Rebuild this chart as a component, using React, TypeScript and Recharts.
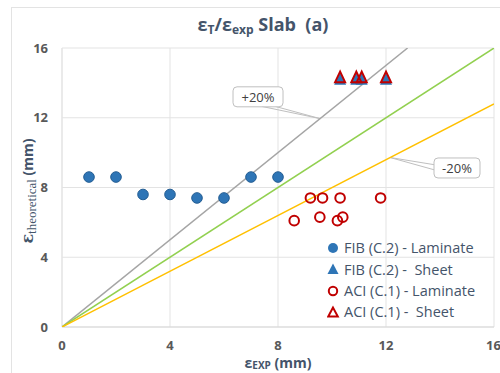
import React from 'react';
import { ScatterChart, Scatter, XAxis, YAxis, CartesianGrid, ReferenceLine, ReferenceDot } from 'recharts';

const axisTicks = [0, 4, 8, 12, 16];

const fibLaminate = [
  { x: 1, y: 8.6 }, { x: 2, y: 8.6 }, { x: 3, y: 7.6 }, { x: 4, y: 7.6 },
  { x: 5, y: 7.4 }, { x: 6, y: 7.4 }, { x: 7, y: 8.6 }, { x: 8, y: 8.6 },
];
const fibSheet = [
  { x: 10.3, y: 14.3 }, { x: 10.9, y: 14.3 }, { x: 11.1, y: 14.3 }, { x: 12.0, y: 14.3 },
];
const aciLaminate = [
  { x: 9.2, y: 7.4 }, { x: 9.65, y: 7.4 }, { x: 10.3, y: 7.4 }, { x: 11.8, y: 7.4 },
  { x: 8.6, y: 6.1 }, { x: 9.55, y: 6.3 }, { x: 10.2, y: 6.1 }, { x: 10.4, y: 6.3 },
];
const aciSheet = [
  { x: 10.3, y: 14.3 }, { x: 10.9, y: 14.3 }, { x: 11.1, y: 14.3 }, { x: 12.0, y: 14.3 },
];

const plus20Line = [{ x: 0, y: 0 }, { x: 12.8, y: 16 }];
const equalLine = [{ x: 0, y: 0 }, { x: 16, y: 16 }];
const minus20Line = [{ x: 0, y: 0 }, { x: 16, y: 12.8 }];

const legendNames = ['FIB (C.2) - Laminate', 'FIB (C.2) -  Sheet', 'ACI (C.1) - Laminate', 'ACI (C.1) -  Sheet'];

const BLUE = '#2e75b6';
const RED = '#c00000';
const TEXT = '#44546a';
const TICK = '#595959';
const FONT = '"Open Sans", "Noto Sans", sans-serif';

const BlueCircle = (p: any) => (
  <circle cx={p.cx} cy={p.cy} r={5.3} fill={BLUE} stroke="#235d93" strokeWidth={1} />
);
const RedCircle = (p: any) => (
  <circle cx={p.cx} cy={p.cy} r={4.8} fill="none" stroke={RED} strokeWidth={2} />
);
const BlueTri = (p: any) => (
  <polygon
    points={`${p.cx},${p.cy - 5} ${p.cx - 6},${p.cy + 7} ${p.cx + 6},${p.cy + 7}`}
    fill={BLUE}
  />
);
const RedTri = (p: any) => (
  <polygon
    points={`${p.cx},${p.cy - 6} ${p.cx - 5},${p.cy + 4.5} ${p.cx + 5},${p.cy + 4.5}`}
    fill="none"
    stroke={RED}
    strokeWidth={2}
    strokeLinejoin="miter"
  />
);
const NoShape = () => <g />;

const makeBox = (label: string, w: number) => (p: any) => (
  <g>
    <rect x={p.cx - w / 2} y={p.cy - 10} width={w} height={20} rx={4} ry={4} fill="#ffffff" stroke="#bfbfbf" strokeWidth={1} />
    <text x={p.cx} y={p.cy} textAnchor="middle" dominantBaseline="central" fontSize={13} fill="#404040" fontFamily={FONT}>
      {label}
    </text>
  </g>
);

const legendIcon = (i: number) => {
  if (i === 0) return <circle cx={6} cy={7} r={5} fill={BLUE} />;
  if (i === 1) return <polygon points="6,1.5 0.5,12 11.5,12" fill={BLUE} />;
  if (i === 2) return <circle cx={6} cy={7} r={4.2} fill="none" stroke={RED} strokeWidth={2} />;
  return <polygon points="6,2.5 1.2,11.5 10.8,11.5" fill="none" stroke={RED} strokeWidth={2} />;
};

export default function App() {
  return (
    <div style={{ position: 'absolute', left: 0, top: 0, width: 500, height: 373, background: '#fff', overflow: 'hidden', fontFamily: FONT }}>
      <div style={{ position: 'absolute', left: 11, top: 7, width: 600, height: 600, borderLeft: '1px solid #e3e3e3', borderTop: '1px solid #e3e3e3' }} />
      <ScatterChart width={500} height={373} margin={{ top: 48, right: 6, bottom: 16, left: 0 }} style={{ position: 'absolute', left: 0, top: 0 }}>
        <CartesianGrid stroke="#e3e3e3" strokeWidth={1} />
        <XAxis
          type="number"
          dataKey="x"
          domain={[0, 16]}
          ticks={axisTicks}
          height={30}
          axisLine={{ stroke: '#d9d9d9' }}
          tickLine={false}
          tickSize={6}
          tickMargin={8}
          tick={{ fill: TICK, fontSize: 13, fontWeight: 700, fontFamily: FONT }}
          allowDataOverflow
        />
        <YAxis
          type="number"
          dataKey="y"
          domain={[0, 16]}
          ticks={axisTicks}
          width={62}
          axisLine={{ stroke: '#e3e3e3' }}
          tickLine={false}
          tickSize={6}
          tickMargin={8}
          tick={{ fill: TICK, fontSize: 13, fontWeight: 700, fontFamily: FONT }}
          allowDataOverflow
        />
        <Scatter data={plus20Line} line={{ stroke: '#a5a5a5', strokeWidth: 1.5 }} shape={NoShape} isAnimationActive={false} legendType="none" />
        <Scatter data={equalLine} line={{ stroke: '#92d050', strokeWidth: 1.5 }} shape={NoShape} isAnimationActive={false} legendType="none" />
        <Scatter data={minus20Line} line={{ stroke: '#ffc000', strokeWidth: 1.5 }} shape={NoShape} isAnimationActive={false} legendType="none" />

        <ReferenceLine segment={[{ x: 7.4, y: 12.65 }, { x: 9.56, y: 11.95 }]} stroke="#bfbfbf" strokeWidth={1} ifOverflow="visible" />
        <ReferenceLine segment={[{ x: 7.9, y: 12.65 }, { x: 9.56, y: 11.95 }]} stroke="#bfbfbf" strokeWidth={1} ifOverflow="visible" />
        <ReferenceLine segment={[{ x: 12.15, y: 9.72 }, { x: 13.82, y: 9.3 }]} stroke="#bfbfbf" strokeWidth={1} ifOverflow="visible" />
        <ReferenceLine segment={[{ x: 12.15, y: 9.72 }, { x: 13.82, y: 9.0 }]} stroke="#bfbfbf" strokeWidth={1} ifOverflow="visible" />
        <ReferenceDot x={7.26} y={13.2} r={1} ifOverflow="visible" shape={makeBox('+20%', 50)} />
        <ReferenceDot x={14.63} y={9.12} r={1} ifOverflow="visible" shape={makeBox('-20%', 46)} />

        <Scatter name={legendNames[0]} data={fibLaminate} shape={BlueCircle} isAnimationActive={false} />
        <Scatter name={legendNames[2]} data={aciLaminate} shape={RedCircle} isAnimationActive={false} />
        <Scatter name={legendNames[1]} data={fibSheet} shape={BlueTri} isAnimationActive={false} />
        <Scatter name={legendNames[3]} data={aciSheet} shape={RedTri} isAnimationActive={false} />
      </ScatterChart>

      <div style={{ position: 'absolute', left: 113, width: 300, top: 12, textAlign: 'center', fontSize: 18, fontWeight: 700, color: TEXT, whiteSpace: 'nowrap', lineHeight: '24px' }}>
        ε<sub style={{ fontSize: 12, verticalAlign: '-3px' }}>T</sub>/ε<sub style={{ fontSize: 12, verticalAlign: '-3px' }}>exp</sub> Slab&nbsp; (a)
      </div>

      <div style={{ position: 'absolute', left: 178, width: 200, top: 355, textAlign: 'center', fontSize: 14, fontWeight: 700, color: TEXT, whiteSpace: 'nowrap', lineHeight: '15px' }}>
        ε<sub style={{ fontSize: 10, verticalAlign: '-1px', lineHeight: '10px' }}>EXP</sub> (mm)
      </div>

      <div style={{ position: 'absolute', left: 27 - 100, top: 191 - 11, width: 200, height: 22, transform: 'rotate(-90deg)', textAlign: 'center', color: TEXT, whiteSpace: 'nowrap', lineHeight: '22px' }}>
        <span style={{ fontFamily: '"DejaVu Serif", "Liberation Serif", serif', fontSize: 16, fontWeight: 700 }}>ε</span>
        <sub style={{ fontFamily: '"Liberation Serif", serif', fontSize: 13, verticalAlign: '-3px' }}>theoretical</sub>
        <span style={{ fontSize: 14, fontWeight: 700 }}> (mm)</span>
      </div>

      <div style={{ position: 'absolute', left: 327, top: 237, color: TEXT, fontSize: 14.5 }}>
        {legendNames.map((n, i) => (
          <div key={n} style={{ display: 'flex', alignItems: 'center', height: i === 2 ? 21 : 21.5, whiteSpace: 'pre' }}>
            <svg width={13} height={14} style={{ marginRight: 4 }}>{legendIcon(i)}</svg>
            <span>{n}</span>
          </div>
        ))}
      </div>
    </div>
  );
}
